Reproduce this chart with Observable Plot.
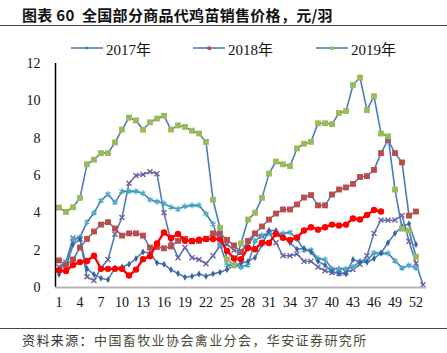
<!DOCTYPE html>
<html><head><meta charset="utf-8">
<script src="https://cdn.jsdelivr.net/npm/d3@7"></script>
<script src="https://cdn.jsdelivr.net/npm/@observablehq/plot@0.6"></script>
<style>
body{margin:0;background:#fff;}
#wrap{position:relative;width:447px;height:353px;overflow:hidden;background:#fff;}
#title{position:absolute;left:22px;top:4px;font:bold 15px "Noto Sans CJK SC";color:#111;white-space:nowrap;letter-spacing:0.3px;}
.rule{position:absolute;left:0;width:447px;height:1px;background:#444;}
.item{position:absolute;top:38px;height:20px;display:flex;align-items:center;font:15px "Liberation Serif","Noto Sans CJK SC";color:#111;white-space:nowrap;}
.item svg{margin-right:3px;}
#chart{position:absolute;left:0;top:55px;}
#source{position:absolute;left:22px;top:330px;font:13px "Noto Sans CJK SC";color:#333;white-space:nowrap;letter-spacing:1.4px;}
#source span{color:#4a4a38;}
</style></head>
<body>
<div id="wrap">
  <div id="title">图表 60&nbsp; 全国部分商品代鸡苗销售价格，元/羽</div>
  <div class="rule" style="top:25px"></div>
  <div id="legend"></div>
  <div id="chart"></div>
  <div class="rule" style="top:328px"></div>
  <div id="source">资料来源：<span>中国畜牧业协会禽业分会，华安证券研究所</span></div>
</div>
<script>
const weeks = [1,2,3,4,5,6,7,8,9,10,11,12,13,14,15,16,17,18,19,20,21,22,23,24,25,26,27,28,29,30,31,32,33,34,35,36,37,38,39,40,41,42,43,44,45,46,47,48,49,50,51,52,53];
const xTickLabels = [1,4,7,10,13,16,19,22,25,28,31,34,37,40,43,46,49,52];
const yTickLabels = [0,2,4,6,8,10,12];
const legendNames = ["2017年","2018年","2019年"];

// purple (x markers)
const s2015 = [1.1,1.35,2.65,2.6,0.57,0.37,1.05,1.5,2.85,3.75,5.58,6.0,6.05,6.2,6.1,4.0,2.47,1.6,2.14,1.6,1.5,1.27,1.7,2.22,2.3,2.0,1.93,2.3,2.85,2.75,2.9,2.4,1.7,1.7,1.8,1.4,1.4,1.1,0.9,0.8,0.75,0.8,0.96,1.25,1.7,2.9,3.62,3.6,3.62,3.86,2.48,1.3,0.15];
// teal (star markers)
const s2016 = [0.9,1.35,2.55,2.7,3.5,4.0,4.65,5.0,4.55,5.15,5.15,5.15,5.05,4.7,4.6,4.5,4.3,4.2,4.35,4.4,4.4,3.95,3.4,2.3,1.2,1.2,1.1,1.2,2.5,2.8,2.9,2.85,2.9,2.95,2.6,2.0,2.0,1.55,1.5,1.0,1.0,1.0,1.1,1.4,1.45,1.86,1.83,1.83,1.43,1.05,1.18,1.05,null];
// diamond markers
const s2017 = [0.7,1.05,2.3,2.6,1.0,0.7,0.5,0.42,1.05,1.1,1.25,1.55,1.9,1.85,1.32,1.25,0.95,0.75,0.55,0.6,0.72,0.6,0.73,0.82,0.96,1.18,1.3,1.4,1.6,2.3,3.05,3.05,2.7,2.4,2.05,2.1,1.9,1.4,1.2,0.86,0.75,0.72,1.5,1.35,1.35,1.55,1.85,2.4,2.9,3.27,3.42,2.3,null];
// red squares
const s2018 = [1.45,1.2,1.5,2.14,2.6,3.0,3.37,3.5,3.16,2.78,2.9,2.9,2.78,2.14,2.17,2.1,2.2,2.5,2.6,2.47,2.5,2.6,2.9,2.9,2.55,2.25,1.9,2.5,2.9,3.27,3.64,3.96,4.18,4.18,4.45,4.82,4.95,4.4,4.4,4.98,5.25,5.36,5.55,5.92,5.97,6.3,7.2,7.9,7.2,6.7,3.85,4.07,null];
// green squares
const s2019 = [4.28,4.05,4.3,4.8,6.6,6.85,7.2,7.2,7.77,8.46,9.1,8.95,8.45,8.85,9.05,9.2,8.46,8.68,8.6,8.4,8.25,7.8,4.7,3.2,1.5,1.2,2.36,3.64,4.0,4.8,6.1,6.75,6.6,6.5,7.45,7.7,7.8,8.8,8.8,8.75,9.35,9.45,10.85,11.25,9.5,10.25,8.25,8.1,5.25,3.15,3.05,1.65,null];
// red thick line with circles
const s2020 = [0.93,0.88,1.2,1.36,1.42,1.7,1.0,1.0,1.0,1.0,0.64,0.96,1.52,1.68,2.36,2.95,2.65,2.87,2.5,2.5,2.56,2.6,2.6,2.58,1.96,1.55,1.52,2.12,2.05,2.4,2.38,2.88,2.66,2.55,2.68,3.05,3.23,3.1,3.23,3.37,3.32,3.37,3.7,3.64,3.88,4.15,4.07,null,null,null,null,null,null];

function rows(vals){ return weeks.map((w,i)=>({week:w, value:vals[i]})).filter(d=>d.value!=null); }

const BLUE = "#4A7EBB";
const d15 = rows(s2015), d16 = rows(s2016), d17 = rows(s2017), d18 = rows(s2018), d19 = rows(s2019), d20 = rows(s2020);

const chart = Plot.plot({
  width: 447, height: 265,
  marginLeft: 55, marginRight: 21, marginTop: 8, marginBottom: 33,
  x: {domain:[0.5,53.5], label:null},
  y: {domain:[0,12], label:null},
  style: {fontFamily:"Liberation Serif", fontSize:"14px", color:"#111", background:"transparent", overflow:"visible"},
  marks: [
    Plot.axisY({ticks:yTickLabels, tickSize:0, tickPadding:15, fontSize:14}),
    Plot.axisX({ticks:xTickLabels, tickSize:0, tickPadding:10, fontSize:14}),
    Plot.line(d15, {x:"week", y:"value", stroke:BLUE, strokeWidth:1.6}),
    Plot.dot(d15, {x:"week", y:"value", symbol:"times", stroke:"#7A5C9E", strokeWidth:1.4, r:2.4}),
    Plot.line(d16, {x:"week", y:"value", stroke:BLUE, strokeWidth:1.6}),
    Plot.dot(d16, {x:"week", y:"value", symbol:"asterisk", stroke:"#4BACC6", strokeWidth:1.4, r:2.8}),
    Plot.line(d17, {x:"week", y:"value", stroke:BLUE, strokeWidth:1.6}),
    Plot.dot(d17, {x:"week", y:"value", symbol:"diamond", fill:"#3A62A0", r:2.1}),
    Plot.line(d18, {x:"week", y:"value", stroke:BLUE, strokeWidth:1.6}),
    Plot.dot(d18, {x:"week", y:"value", symbol:"square", fill:"#BE4B48", r:3.3}),
    Plot.line(d19, {x:"week", y:"value", stroke:BLUE, strokeWidth:1.6}),
    Plot.dot(d19, {x:"week", y:"value", symbol:"square", fill:"#9BBB59", r:3.3}),
    Plot.line(d20, {x:"week", y:"value", stroke:"#FF0000", strokeWidth:2.4}),
    Plot.dot(d20, {x:"week", y:"value", symbol:"circle", fill:"#FF0000", r:3.2}),
    Plot.ruleX([0.5], {stroke:"#000", strokeWidth:1.5}),
    Plot.ruleY([0], {stroke:"#B5B5B5", strokeWidth:2})
  ]
});
document.getElementById("chart").appendChild(chart);

// legend
const legendMarkers = [
  `<polygon points="16,2.5 17.5,4 16,5.5 14.5,4" fill="#3A62A0"/>`,
  `<rect x="14.5" y="2.5" width="3.5" height="3.5" fill="#BE4B48"/>`,
  `<rect x="14.5" y="2.5" width="3.5" height="3.5" fill="#9BBB59"/>`
];
const legendX = [71, 193, 316];
const leg = document.getElementById("legend");
legendNames.forEach((n,i)=>{
  const div = document.createElement("div");
  div.className = "item";
  div.style.left = legendX[i] + "px";
  div.innerHTML = `<svg width="32" height="8"><line x1="0" y1="4" x2="32" y2="4" stroke="${BLUE}" stroke-width="1.6"/>${legendMarkers[i]}</svg><span>${n}</span>`;
  leg.appendChild(div);
});
</script>
</body></html>
